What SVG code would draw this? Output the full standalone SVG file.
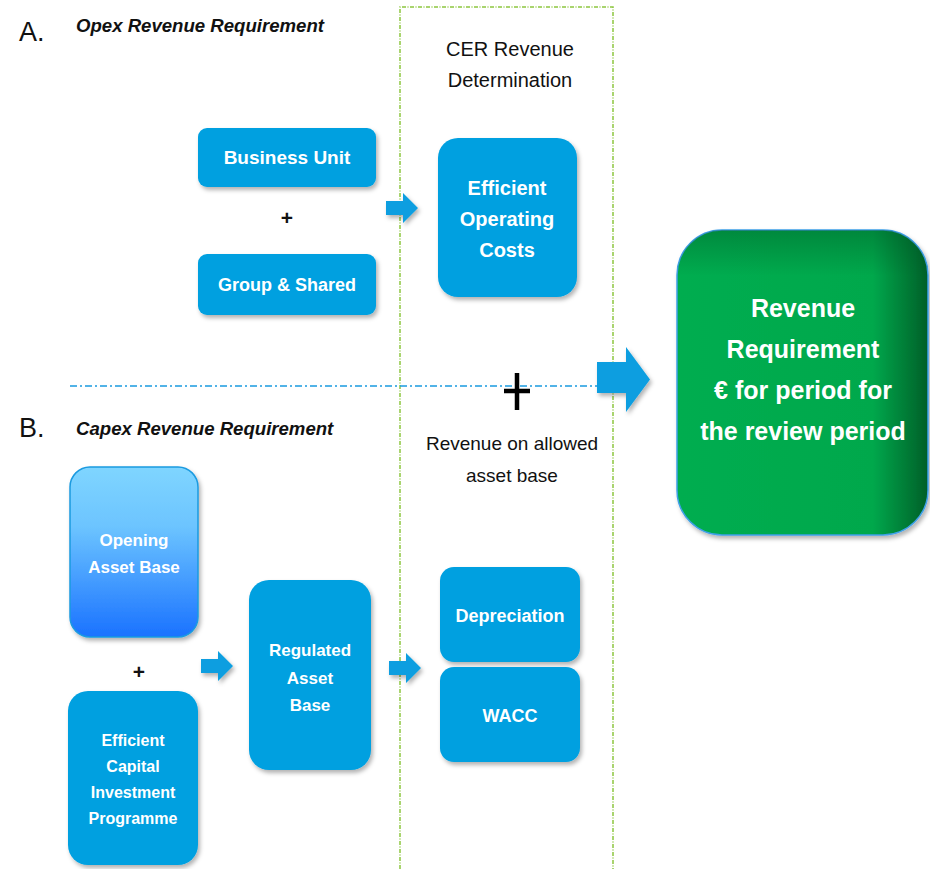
<svg xmlns="http://www.w3.org/2000/svg" width="930" height="869" viewBox="0 0 930 869">
<defs>
<filter id="sh" x="-10%" y="-10%" width="130%" height="130%">
<feDropShadow dx="2" dy="3" stdDeviation="2" flood-color="#000" flood-opacity="0.3"/>
</filter>
<linearGradient id="gOpen" x1="0" y1="0" x2="0" y2="1">
<stop offset="0" stop-color="#7fd5ff"/>
<stop offset="0.35" stop-color="#6cc4ff"/>
<stop offset="1" stop-color="#1a72ff"/>
</linearGradient>
<linearGradient id="gGreen" x1="0" y1="0" x2="1" y2="0">
<stop offset="0" stop-color="#00ad50"/>
<stop offset="0.78" stop-color="#00a84c"/>
<stop offset="1" stop-color="#005f28"/>
</linearGradient>
<linearGradient id="gGreenTop" x1="0" y1="0" x2="0" y2="1">
<stop offset="0" stop-color="#004a1e" stop-opacity="0.35"/>
<stop offset="0.15" stop-color="#004a1e" stop-opacity="0"/>
</linearGradient>
</defs>
<style>
.box{fill:#00a0e0;filter:url(#sh)}
.bt{font-family:"Liberation Sans",Arial,sans-serif;font-weight:bold;fill:#fff;text-anchor:middle}
.t{font-family:"Liberation Sans",Arial,sans-serif;fill:#111}
.arrow{fill:#0a9ee0;filter:url(#sh)}
</style>
<rect width="930" height="869" fill="#fff"/>

<g id="cer-frame">
<path d="M400,869 V7 H613 V869" fill="none" stroke="#8dc63f" stroke-width="1.5" stroke-dasharray="4 1.5 1 1.5"/>
<text class="t" x="510" y="56" font-size="20" text-anchor="middle">CER Revenue</text>
<text class="t" x="510" y="87" font-size="20" text-anchor="middle">Determination</text>
</g>

<g id="title-a">
<text class="t" x="19" y="41" font-size="27">A.</text>
<text class="t" x="76" y="32" font-size="18.6" font-weight="bold" font-style="italic">Opex Revenue Requirement</text>
</g>
<g id="title-b">
<text class="t" x="19" y="437" font-size="27">B.</text>
<text class="t" x="76" y="435" font-size="18.6" font-weight="bold" font-style="italic">Capex Revenue Requirement</text>
</g>

<g id="business-unit">
<rect class="box" x="198" y="128" width="178" height="59" rx="9"/>
<text class="bt" x="287" y="164" font-size="19">Business Unit</text>
</g>
<g id="plus-a">
<text class="t" x="287" y="225" font-size="21" font-weight="bold" text-anchor="middle">+</text>
</g>
<g id="group-shared">
<rect class="box" x="198" y="254" width="178" height="61" rx="9"/>
<text class="bt" x="287" y="291" font-size="18">Group &amp; Shared</text>
</g>

<g id="efficient-operating-costs">
<rect class="box" x="438" y="138" width="139" height="159" rx="20"/>
<text class="bt" x="507" y="195" font-size="20">Efficient</text>
<text class="bt" x="507" y="226" font-size="20">Operating</text>
<text class="bt" x="507" y="257" font-size="20">Costs</text>
</g>

<g id="revenue-requirement">
<rect x="677" y="230" width="251" height="305" rx="45" fill="url(#gGreen)" stroke="#3fa0e8" stroke-width="1.5" filter="url(#sh)"/>
<rect x="677" y="230" width="251" height="305" rx="45" fill="url(#gGreenTop)"/>
<text class="bt" x="803" y="317" font-size="25">Revenue</text>
<text class="bt" x="803" y="358" font-size="25">Requirement</text>
<text class="bt" x="803" y="399" font-size="25">€ for period for</text>
<text class="bt" x="803" y="440" font-size="25">the review period</text>
</g>

<g id="revenue-allowed">
<text class="t" x="512" y="450" font-size="19" text-anchor="middle">Revenue on allowed</text>
<text class="t" x="512" y="482" font-size="19" text-anchor="middle">asset base</text>
</g>

<g id="opening-asset-base">
<rect x="70" y="467" width="128" height="170" rx="20" fill="url(#gOpen)" stroke="#1a9ae0" stroke-width="1.5" filter="url(#sh)"/>
<text class="bt" x="134" y="546" font-size="17">Opening</text>
<text class="bt" x="134" y="573" font-size="17">Asset Base</text>
</g>
<g id="plus-b">
<text class="t" x="139" y="679" font-size="21" font-weight="bold" text-anchor="middle">+</text>
</g>
<g id="efficient-capital">
<rect class="box" x="68" y="691" width="130" height="174" rx="20"/>
<text class="bt" x="133" y="746" font-size="16">Efficient</text>
<text class="bt" x="133" y="772" font-size="16">Capital</text>
<text class="bt" x="133" y="798" font-size="16">Investment</text>
<text class="bt" x="133" y="824" font-size="16">Programme</text>
</g>
<g id="regulated-asset-base">
<rect class="box" x="249" y="580" width="122" height="190" rx="20"/>
<text class="bt" x="310" y="656" font-size="17">Regulated</text>
<text class="bt" x="310" y="684" font-size="17">Asset</text>
<text class="bt" x="310" y="711" font-size="17">Base</text>
</g>
<g id="depreciation">
<rect class="box" x="440" y="567" width="140" height="95" rx="14"/>
<text class="bt" x="510" y="622" font-size="18">Depreciation</text>
</g>
<g id="wacc">
<rect class="box" x="440" y="667" width="140" height="95" rx="14"/>
<text class="bt" x="510" y="722" font-size="18">WACC</text>
</g>

<g id="connectors">
<line x1="70" y1="386" x2="597" y2="386" stroke="#1a9be0" stroke-width="1.5" stroke-dasharray="7 3 2 3"/>
<path d="M504,391 H530 M517,373 V410" stroke="#000" stroke-width="4.5" fill="none"/>
<polygon class="arrow" points="597,362 626,362 626,347 650,379.5 626,412 626,393 597,393"/>
<polygon class="arrow" transform="translate(386,193)" points="0,8 17,8 17,0 32,15 17,30 17,22 0,22"/>
<polygon class="arrow" transform="translate(201,651)" points="0,8 17,8 17,0 32,15 17,30 17,22 0,22"/>
<polygon class="arrow" transform="translate(389,653)" points="0,8 17,8 17,0 32,15 17,30 17,22 0,22"/>
</g>
</svg>
